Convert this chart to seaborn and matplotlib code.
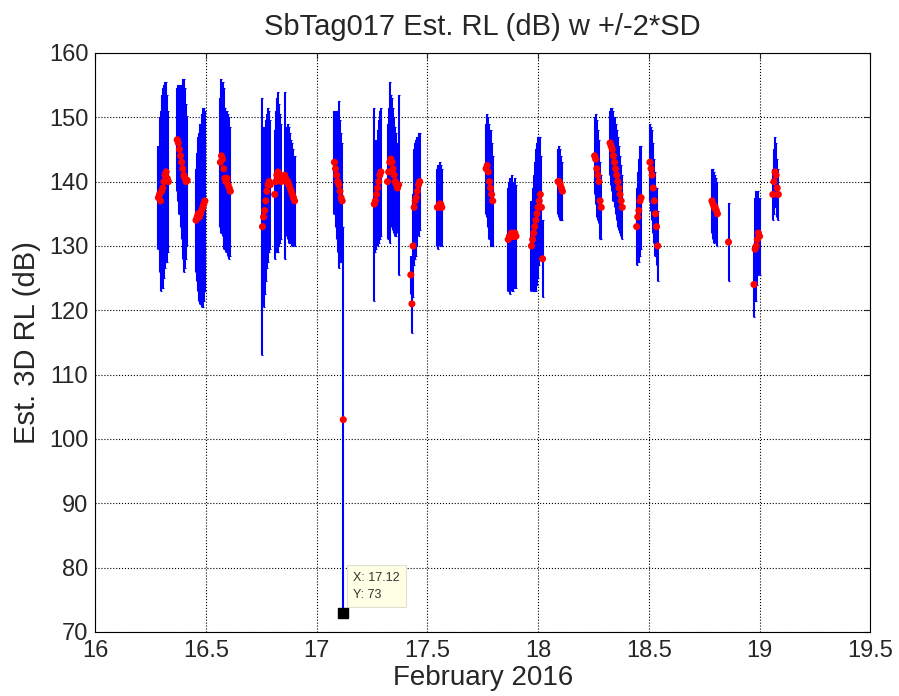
import numpy as np
import pandas as pd
import seaborn as sns
import matplotlib.pyplot as plt

# time (day of February 2016), estimated RL (dB) and 2*SD half width, per burst
t = [
    16.285, 16.29, 16.295, 16.30, 16.305, 16.31, 16.315, 16.32, 16.325, 16.33,
    16.37, 16.375, 16.38, 16.385, 16.39, 16.395, 16.40, 16.405, 16.41, 16.415,
    16.455, 16.46, 16.465, 16.47, 16.475, 16.48, 16.485, 16.49, 16.495,
    16.565, 16.57, 16.575, 16.58, 16.585, 16.59, 16.595, 16.60, 16.605, 16.61,
    16.755, 16.76, 16.765, 16.77, 16.775, 16.78, 16.785, 16.79,
    16.81, 16.815, 16.82, 16.825, 16.83, 16.835, 16.84,
    16.855, 16.86, 16.865, 16.87, 16.875, 16.88, 16.885, 16.89, 16.895, 16.90,
    17.08, 17.085, 17.09, 17.095, 17.10, 17.105, 17.11, 17.115, 17.12,
    17.26, 17.265, 17.27, 17.275, 17.28, 17.285, 17.29,
    17.32, 17.325, 17.33, 17.335, 17.34, 17.345, 17.35, 17.355, 17.36, 17.365, 17.37,
    17.425, 17.43, 17.435, 17.44, 17.445, 17.45, 17.455, 17.46, 17.465,
    17.545, 17.55, 17.555, 17.56, 17.565,
    17.765, 17.77, 17.775, 17.78, 17.785, 17.79, 17.795,
    17.865, 17.87, 17.875, 17.88, 17.885, 17.89, 17.895, 17.90,
    17.97, 17.975, 17.98, 17.985, 17.99, 17.995, 18.00, 18.005, 18.01, 18.015, 18.02,
    18.09, 18.095, 18.10, 18.105, 18.11,
    18.255, 18.26, 18.265, 18.27, 18.275, 18.28, 18.285,
    18.325, 18.33, 18.335, 18.34, 18.345, 18.35, 18.355, 18.36, 18.365, 18.37, 18.375, 18.38,
    18.445, 18.45, 18.455, 18.46, 18.465,
    18.505, 18.51, 18.515, 18.52, 18.525, 18.53, 18.535, 18.54,
    18.785, 18.79, 18.795, 18.80, 18.805, 18.81,
    18.86,
    18.975, 18.98, 18.985, 18.99, 18.995, 19.00,
    19.06, 19.065, 19.07, 19.075, 19.08, 19.085,
]
rl = [
    137.5, 138, 137, 138.5, 139, 140, 141, 141.5, 140.5, 140,
    146.5, 146, 145, 144, 143, 142, 141, 140.5, 140, 140.2,
    134, 134.5, 135, 134.5, 135, 135.5, 136, 136.5, 137,
    143, 144, 143.5, 142, 140.5, 140, 140.5, 139.5, 139, 138.5,
    133, 134.5, 135.5, 137, 138.5, 139.5, 140, 139.5,
    138, 140, 141, 141.5, 141, 140.5, 140,
    141, 140.5, 140, 140, 139.5, 139, 138.5, 138, 137.5, 137,
    143, 142, 141, 140, 139.5, 138.5, 137.5, 137, 103,
    136.5, 137, 138, 139, 140, 141, 141.5,
    140, 141.5, 143, 143.5, 143, 142, 141, 140, 139.5, 139, 139.5,
    125.5, 121, 130, 136, 137, 137.5, 138.5, 139.5, 140,
    136, 136, 136.5, 136.5, 136,
    142, 142.5, 141.5, 140, 139, 138, 137,
    131, 131.5, 131.5, 132, 131.5, 131.5, 132, 131.5,
    130, 131, 132, 133, 134, 135, 136, 137, 138, 136, 128,
    140, 140, 139.5, 139, 138.5,
    144, 143.5, 142, 141, 140, 137, 136,
    146, 145.5, 145, 144, 143, 142, 141, 140, 139, 138, 137, 136,
    133, 134.5, 135.5, 137, 137.5,
    143, 142, 141, 139, 137, 135, 133, 130,
    137, 136.5, 136, 136, 135.5, 135,
    130.6,
    124, 129.5, 130, 131, 132, 131.5,
    138, 140, 141.5, 141, 139, 138,
]
sd2 = [
    8, 12, 14, 15, 15.5, 15, 14.5, 14, 13, 11,
    8, 9, 10, 11, 12, 14, 15, 14, 12, 10,
    8, 10, 12, 13, 14, 15, 15.5, 15, 14,
    10, 12, 12, 12.5, 11, 11, 10.5, 11, 11, 10,
    20, 14, 13, 12.5, 12, 12, 11, 10,
    10, 11, 12, 12.5, 11, 10, 9,
    13, 8, 8.5, 9, 9, 8.5, 8, 8, 7.5, 7,
    8, 9, 10, 11, 13, 11, 10, 9, 30,
    15, 8, 8.5, 9, 9.5, 10, 10,
    9, 10, 12.5, 10, 10, 9.5, 9, 8.5, 8, 7, 14,
    3, 4.5, 8, 9, 9, 9, 8.5, 8, 7.5,
    6, 6.5, 6.5, 6, 6,
    7, 8, 8.5, 9, 9, 8, 7,
    8, 8.5, 9, 9, 8.5, 8, 8.5, 8,
    7, 8, 9, 10, 11, 11, 11, 10, 9, 8, 6,
    5, 5.5, 5.5, 5, 4.5,
    6, 7, 7.5, 7, 6.5, 6, 5,
    5, 6, 6.5, 7, 7, 7, 7, 7, 6.5, 6, 5.5, 5,
    6, 7, 8, 8.5, 8,
    6, 6.5, 7, 7, 6.5, 6.5, 6, 5.5,
    5, 5.5, 5.5, 5, 5, 5,
    6,
    5, 8, 8.5, 7, 6.5, 6,
    4, 5, 5.5, 5, 4.5, 4,
]

tip_x = 17.12
tip_y = 73

df = pd.DataFrame({'day': t, 'rl': rl, 'sd2': sd2})

sns.set_style('white')
plt.rcParams['font.family'] = ['Liberation Sans', 'DejaVu Sans']

fig = plt.figure(figsize=(8.99, 6.96), dpi=100)
ax = fig.add_axes([0.106, 0.092, 0.862, 0.832])

# error bars (+/- 2*SD)
ax.errorbar(df['day'], df['rl'], yerr=df['sd2'], fmt='none', ecolor='blue',
            elinewidth=1.5, capsize=1, capthick=0.8, zorder=2)
sns.scatterplot(data=df, x='day', y='rl', color='red', marker='o', s=26,
                edgecolor='none', ax=ax, zorder=3)

# data tip
ax.plot(tip_x, tip_y, 's', color='black', ms=7, zorder=4)
ax.text(tip_x + 0.045, tip_y + 1.8, 'X: 17.12\nY: 73', fontsize=9, color='#333333',
        va='bottom', ha='left', linespacing=1.6,
        bbox=dict(boxstyle='square,pad=0.5', fc='#ffffe6', ec='#e0e0d0', lw=0.8))

ax.set_xlim(16, 19.5)
ax.set_ylim(70, 160)
ax.set_xticks(np.arange(16, 19.51, 0.5))
ax.set_xticklabels(['16', '16.5', '17', '17.5', '18', '18.5', '19', '19.5'])
ax.set_yticks(np.arange(70, 161, 10))
ax.grid(True, color='black', linestyle=':', linewidth=0.8)
ax.tick_params(direction='in', top=True, right=True, labelsize=17, length=4)
ax.tick_params(axis='x', pad=6)
ax.tick_params(axis='y', pad=5)
for s in ax.spines.values():
    s.set_color('black')
    s.set_linewidth(0.8)

ax.set_xlabel('February 2016', fontsize=20, labelpad=2)
ax.set_ylabel('Est. 3D RL (dB)', fontsize=21, labelpad=6)
ax.set_title('SbTag017 Est. RL (dB) w +/-2*SD', fontsize=21, pad=13)

plt.savefig('out.png', dpi=100)
